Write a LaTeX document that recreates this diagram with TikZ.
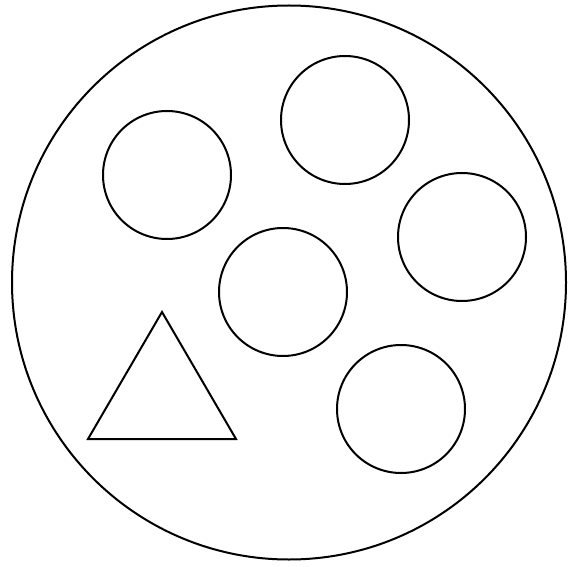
\documentclass[tikz,border=0pt]{standalone}
\usepackage{tikz}

\begin{document}
\begin{tikzpicture}[
  x=1pt, y=-1pt,
  line width=2pt,
  plate/.style={draw, circle, inner sep=0pt, minimum size=554pt},
  ball/.style={draw, circle, inner sep=0pt, minimum size=128pt},
]
\useasboundingbox (0,0) rectangle (573,567);

% ============ outer circle ============
\node[plate] (plate) at (289,282.5) {};

% ============ small circles ============
\node[ball] (b1) at (167,175) {};
\node[ball] (b2) at (345,120) {};
\node[ball] (b3) at (462,237) {};
\node[ball] (b4) at (283,292) {};
\node[ball] (b5) at (401,409) {};

% ============ triangle ============
\coordinate (tA) at (162,312);
\coordinate (tB) at (88,439);
\coordinate (tC) at (236,439);
\draw[line join=miter] (tA) -- (tB) -- (tC) -- cycle;

\end{tikzpicture}
\end{document}
